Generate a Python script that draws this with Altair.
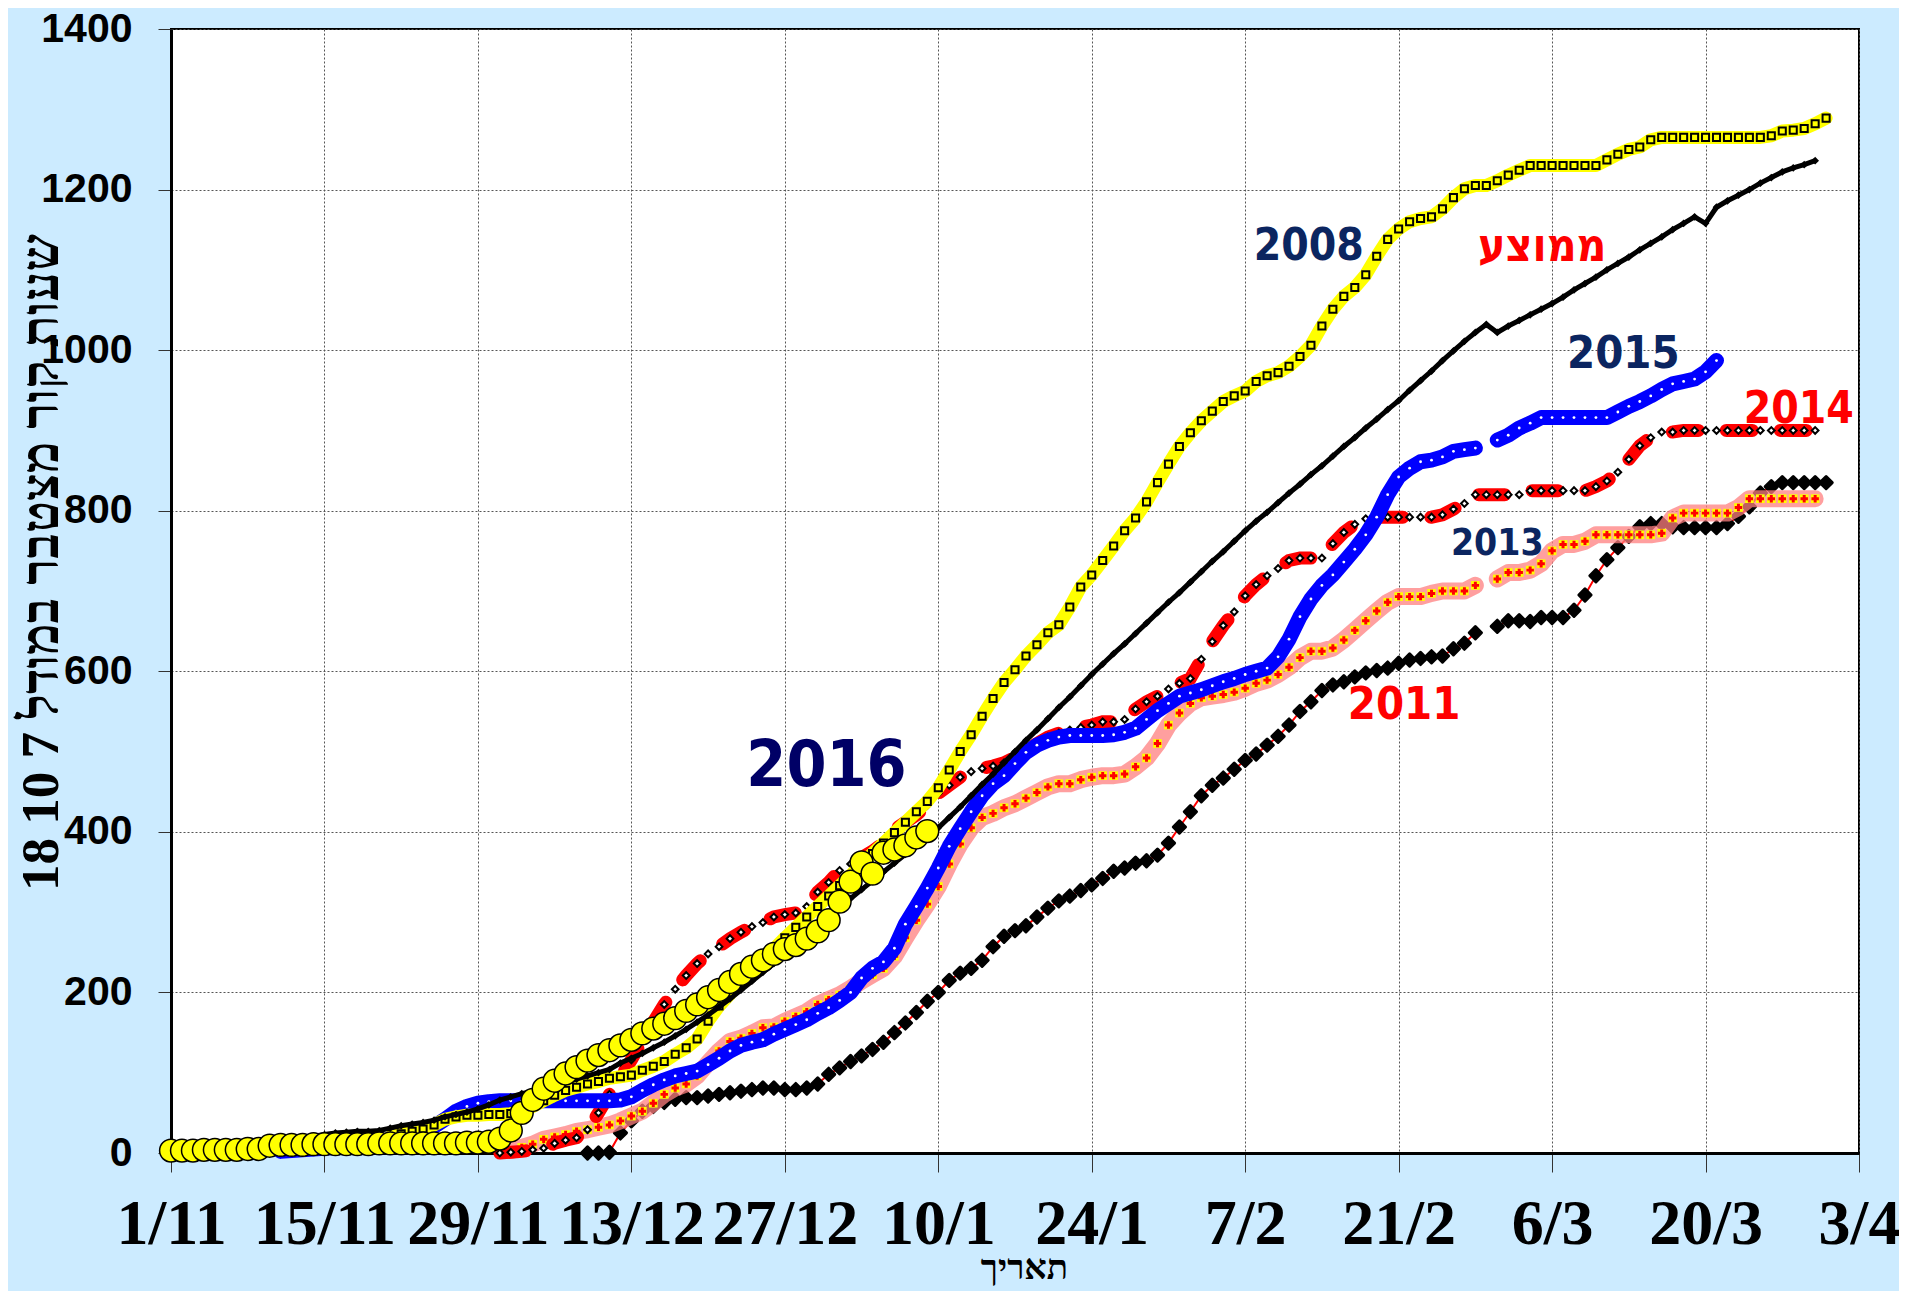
import json
import altair as alt
import pandas as pd

# ---------------- data (day 0 = 1/11, values = cumulative chill hours) ----------------
DAY_TICKS = [0, 14, 28, 42, 56, 70, 84, 98, 112, 126, 140, 154]
DAY_LABELS = ["1/11", "15/11", "29/11", "13/12", "27/12", "10/1", "24/1", "7/2", "21/2", "6/3", "20/3", "3/4"]
Y_TICKS = [0, 200, 400, 600, 800, 1000, 1200, 1400]

AVG_START = 0
AVG = [0, 1, 2, 3, 4, 5, 6, 8, 10, 12, 15,
       17, 19, 21, 23, 25, 26, 27, 27, 28, 31,
       34, 36, 38, 41, 45, 48, 51, 55, 60, 66,
       70, 74, 77, 80, 84, 88, 92, 96, 100, 104,
       112, 118, 124, 131, 138, 146, 154, 163, 172, 182,
       192, 203, 214, 225, 236, 247, 258, 269, 281, 293,
       305, 317, 328, 339, 350, 361, 372, 383, 394, 405,
       418, 431, 445, 459, 472, 486, 500, 514, 527, 541,
       555, 568, 582, 596, 609, 622, 634, 647, 660, 673,
       686, 698, 711, 724, 737, 749, 762, 775, 787, 798,
       810, 822, 833, 845, 856, 868, 880, 891, 903, 914,
       926, 937, 950, 962, 974, 987, 999, 1011, 1022, 1032,
       1022, 1030, 1037, 1044, 1051, 1058, 1066, 1075, 1083, 1091,
       1100, 1108, 1116, 1125, 1133, 1141, 1150, 1158, 1166, 1158,
       1178, 1186, 1193, 1200, 1208, 1215, 1222, 1227, 1231, 1236]

Y2008_START = 20
Y2008 = [20, 24, 27, 30, 35, 42, 45, 47, 47, 48,
         48, 49, 52, 58, 65, 72, 78, 82, 86, 89,
         93, 95, 97, 103, 108, 114, 123, 131, 142, 164,
         183, 198, 212, 226, 240, 254, 268, 281, 294, 307,
         320, 333, 346, 360, 373, 386, 399, 412, 425, 438,
         455, 477, 500, 521, 544, 566, 586, 602, 619, 633,
         648, 658, 680, 705, 720, 738, 756, 775, 791, 811,
         835, 858, 880, 897, 912, 924, 936, 943, 949, 961,
         968, 972, 980, 992, 1006, 1030, 1051, 1067, 1078, 1094,
         1117, 1138, 1151, 1160, 1164, 1166, 1176, 1190, 1201, 1205,
         1205, 1211, 1218, 1224, 1230, 1230, 1230, 1230, 1230, 1230,
         1230, 1237, 1244, 1250, 1253, 1262, 1265, 1265, 1265, 1265,
         1265, 1265, 1265, 1265, 1265, 1265, 1267, 1273, 1274, 1276,
         1282, 1289]

Y2015_START = 10
Y2015 = [2, 3, 4, 5, 6, 7, 8, 10, 12, 14,
         16, 19, 23, 28, 33, 42, 52, 58, 62, 64,
         65, 65, 65, 65, 65, 65, 65, 65, 65, 65,
         65, 66, 70, 78, 85, 91, 96, 99, 102, 110,
         118, 127, 134, 138, 141, 148, 154, 160, 166, 174,
         181, 190, 200, 218, 230, 238, 255, 285, 307, 330,
         355, 382, 404, 425, 445, 460, 470, 485, 499, 508,
         514, 518, 520, 520, 520, 520, 521, 524, 529, 540,
         551, 560, 569, 573, 577, 582, 587, 591, 596, 600,
         604, 618, 640, 668, 690, 707, 720, 736, 752, 770,
         792, 820, 842, 853, 861, 863, 867, 874, 876, 878,
         None, 888, 894, 903, 909, 916, 916, 916, 916, 916,
         916, 916, 923, 930, 936, 943, 951, 958, 961, 964,
         973, 987]

Y2014_START = 30
Y2014 = [0, 1, 2, 4, 6, 12, 16, 19, 29, 50,
         73, 94, 116, 140, 163, 185, 204, 221, 236, 248,
         257, 267, 275, 282, 287, 294, 297, 299, 307, 325,
         337, 352, 360, 368, 376, 386, 403, 412, 421, 433,
         448, 458, 468, 475, 479, 482, 486, 493, 502, 510,
         518, 523, 527, 530, 533, 537, 537, 540, 553, 562,
         569, 578, 585, 591, 615, 637, 657, 674, 694, 708,
         719, 728, 738, 741, 741, 741, 759, 773, 783, 790,
         792, 792, 792, 792, 792, 792, 795, 802, 809, 820,
         820, 820, 820, 820, 825, 825, 825, 825, 825, 825,
         830, 837, 848, 864, 881, 891, 898, 898, 900, 900,
         900, 900, 900, 900, 900, 900, 900, 900, 900, 900, 900]

Y2013_START = 31
Y2013 = [3, 7, 11, 17, 20, 23, 27, 29, 32, 35,
         40, 46, 52, 62, 73, 81, 86, 96, 112, 127,
         139, 143, 149, 156, 157, 164, 170, 176, 185, 191,
         197, 205, 214, 222, 230, 245, 268, 290, 310, 332,
         360, 385, 405, 418, 423, 430, 435, 442, 449, 456,
         460, 460, 465, 468, 470, 470, 472, 481, 492, 510,
         533, 548, 560, 567, 569, 571, 574, 579, 585, 589,
         596, 605, 617, 625, 625, 629, 639, 651, 663, 675,
         686, 693, 693, 693, 697, 700, 700, 700, 707, None,
         715, 723, 723, 726, 734, 750, 758, 758, 762, 770,
         770, 770, 770, 770, 770, 772, 791, 797, 797, 797,
         797, 797, 804, 815, 815, 815, 815, 815, 815, 815]

Y2011_START = 38
Y2011 = [0, 0, 1, 25, 40, 52, 58, 63, 67, 69,
         69, 71, 73, 75, 77, 79, 81, 81, 79, 79,
         81, 86, 98, 106, 114, 121, 129, 138, 150, 162,
         175, 189, 200, 215, 224, 230, 240, 257, 270, 277,
         283, 294, 305, 314, 320, 327, 334, 342, 351, 355,
         361, 364, 371, 386, 406, 425, 445, 458, 467, 478,
         489, 497, 508, 519, 533, 550, 562, 576, 583, 587,
         593, 598, 601, 604, 610, 614, 616, 618, 619, 628,
         635, 648, None, 656, 663, 663, 662, 667, 667, 667,
         676, 695, 719, 739, 754, 768, 780, 784, 784, 780,
         779, 779, 779, 779, 784, 793, 805, 822, 830, 835,
         835, 835, 835, 835]

Y2016_START = 0
Y2016 = [3, 3, 3, 4, 4, 4, 4, 5, 5, 9,
         10, 10, 10, 11, 11, 11, 11, 11, 11, 12,
         12, 12, 12, 12, 12, 12, 12, 13, 13, 14,
         18, 28, 50, 66, 80, 90, 99, 107, 115, 122,
         128, 134, 141, 149, 155, 161, 168, 177, 185, 194,
         203, 213, 223, 232, 240, 248, 254, 259, 267, 276,
         290, 313, 338, 362, 348, 374, 378, 383, 393, 401]

LABEL_TEXT = ["2016", "2008", "ממוצע", "2015", "2014", "2013", "2011"]
LABEL_DAY = [59.8, 103.8, 125.1, 132.5, 148.5, 121.0, 112.5]
LABEL_VALUE = [481, 1128, 1129, 995, 926, 759, 558]
LABEL_COLOR = ["#000066", "#0B2560", "#FF0000", "#0B2560", "#FF0000", "#0B2560", "#FF0000"]
LABEL_SIZE = [64, 44, 46, 45, 44, 37, 45]


def frame(start, values):
    return pd.DataFrame({"day": [start + i for i in range(len(values))],
                         "value": [float("nan") if v is None else v for v in values]})


df_avg = frame(AVG_START, AVG)
df_2008 = frame(Y2008_START, Y2008)
df_2015 = frame(Y2015_START, Y2015)
df_2014 = frame(Y2014_START, Y2014)
df_2013 = frame(Y2013_START, Y2013)
df_2011 = frame(Y2011_START, Y2011)
df_2016 = frame(Y2016_START, Y2016)
df_labels = pd.DataFrame({"day": LABEL_DAY, "value": LABEL_VALUE, "text": LABEL_TEXT,
                          "color": LABEL_COLOR, "fs": LABEL_SIZE})

# ---------------- encodings ----------------
label_expr = json.dumps(DAY_LABELS) + "[round(datum.value / 14)]"

X = alt.X("day:Q",
          scale=alt.Scale(domain=[0, 154], nice=False, zero=False),
          axis=alt.Axis(values=DAY_TICKS, labelExpr=label_expr,
                        labelFont="Liberation Serif", labelFontWeight="bold", labelFontSize=64,
                        labelColor="black", labelFlush=False, labelOverlap=False, labelBound=False,
                        labelPadding=20, tickSize=19, tickColor="#333333", tickWidth=1,
                        domainColor="black", domainWidth=3,
                        grid=True, gridColor="#555555", gridDash=[2, 2], gridWidth=1,
                        title="תאריך", titleFont="Liberation Serif", titleFontSize=35,
                        titleFontWeight="bold", titleColor="black",
                        titleX=853, titleY=114, titleBaseline="middle", titleAlign="center"))

Y = alt.Y("value:Q",
          scale=alt.Scale(domain=[0, 1400], nice=False),
          axis=alt.Axis(values=Y_TICKS, format="d",
                        labelFont="Liberation Sans", labelFontWeight="bold", labelFontSize=41,
                        labelColor="black", labelPadding=26, tickSize=13, tickColor="#333333",
                        tickWidth=1, domainColor="black", domainWidth=3,
                        grid=True, gridColor="#555555", gridDash=[2, 2], gridWidth=1,
                        title="שעות קור מצטבר במודל 7 10 18", titleFont="Liberation Serif",
                        titleFontSize=53, titleFontWeight="bold", titleColor="black",
                        titleAngle=270, titleX=-130, titleY=533, titleBaseline="middle",
                        titleAlign="center"))


def line(df, **kw):
    return alt.Chart(df).mark_line(**kw).encode(x=X, y=Y)


def pts(df, **kw):
    kw.setdefault("opacity", 1)
    return alt.Chart(df).mark_point(**kw).encode(x=X, y=Y)


layers = [
    # 2011: thin red line with black diamonds
    line(df_2011, color="#FF0000", strokeWidth=2),
    pts(df_2011, shape="diamond", filled=True, fill="black", stroke="black", strokeWidth=3,
        strokeJoin="round", size=150),
    # 2013: pink band, yellow squares with red crosses
    line(df_2013, color="#FF7F7F", strokeWidth=17, opacity=0.75, strokeCap="round", strokeJoin="round"),
    pts(df_2013, shape="square", filled=True, fill="#FFFF00", strokeWidth=0, size=75),
    pts(df_2013, shape="cross", filled=True, fill="#FF0000", strokeWidth=0, size=55),
    # 2014: red thick dashes with small hollow diamonds
    line(df_2014, color="#FF0000", strokeWidth=13, strokeDash=[26, 28], strokeCap="round"),
    pts(df_2014, shape="diamond", filled=True, fill="white", stroke="black", strokeWidth=2, size=45),
    # 2015: thick blue with white dots
    line(df_2015, color="#0000FF", strokeWidth=15, strokeCap="round", strokeJoin="round"),
    pts(df_2015, shape="circle", filled=True, fill="white", strokeWidth=0, size=8),
    # 2008: yellow band with hollow black squares
    line(df_2008, color="#FFFF00", strokeWidth=13, strokeCap="round", strokeJoin="round"),
    pts(df_2008, shape="square", filled=True, fill="#FFFF00", stroke="black", strokeWidth=2, size=50),
    # average: black line with small markers
    line(df_avg, color="black", strokeWidth=5),
    pts(df_avg, shape="diamond", filled=True, fill="black", strokeWidth=0, size=60),
    # 2016: big yellow circles
    pts(df_2016, shape="circle", filled=True, fill="#FFFF00", stroke="black", strokeWidth=1.5, size=520),
    # text labels
    alt.Chart(df_labels).mark_text(font="DejaVu Sans Condensed, DejaVu Sans", fontWeight="bold",
                                   align="center", baseline="middle").encode(
        x=X, y=Y, text="text:N",
        color=alt.Color("color:N", scale=None),
        size=alt.Size("fs:Q", scale=None)),
]

chart = alt.layer(*layers).properties(
    width=1688, height=1124,
    autosize=alt.AutoSizeParams(type="none"),
    padding={"left": 163, "top": 21, "right": 40, "bottom": 138},
    background="#CCEBFF",
).configure_view(fill="white", stroke="black", strokeWidth=2)

chart.save("out.html", embed_options={"renderer": "svg", "actions": False})
